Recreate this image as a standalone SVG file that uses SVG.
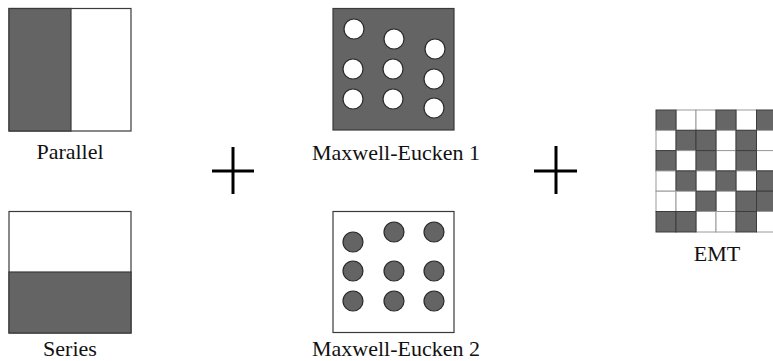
<svg xmlns="http://www.w3.org/2000/svg" width="773" height="361" viewBox="0 0 773 361">
  <style>
    .bg { fill: #ffffff; }
    .frame { fill: #ffffff; stroke: #3a3a3a; stroke-width: 1.2; }
    .dark { fill: #646464; stroke: #3a3a3a; stroke-width: 1.2; }
    .hole { fill: #ffffff; stroke: #2a2a2a; stroke-width: 1.2; }
    .dot { fill: #646464; stroke: #2a2a2a; stroke-width: 1.2; }
    .cellG { fill: #666666; stroke: #3c3c3c; stroke-width: 1; }
    .cellW { fill: #ffffff; stroke: #9a9a9a; stroke-width: 1; }
    .label { font-family: 'Liberation Serif', 'DejaVu Serif', 'Times New Roman', serif; font-size: 22px; fill: #111111; text-anchor: middle; }
    .plus { stroke: #000000; stroke-width: 3; fill: none; }
  </style>
  <rect class="bg" x="0" y="0" width="773" height="361"/>

  <!-- Parallel model -->
  <g id="parallel">
    <rect class="frame" x="9" y="8.5" width="122" height="122.5"/>
    <rect class="dark" x="9" y="8.5" width="62" height="122.5"/>
    <text class="label" x="70" y="159">Parallel</text>
  </g>

  <!-- Series model -->
  <g id="series">
    <rect class="frame" x="9" y="211.5" width="122" height="121.5"/>
    <rect class="dark" x="9" y="272" width="122" height="61"/>
    <text class="label" x="70" y="356">Series</text>
  </g>

  <!-- Maxwell-Eucken 1: white inclusions in a dark matrix -->
  <g id="maxwell-eucken-1">
    <rect class="dark" x="333" y="8.5" width="121" height="121.5"/>
    <circle class="hole" cx="354" cy="29" r="10"/>
    <circle class="hole" cx="353" cy="69" r="10"/>
    <circle class="hole" cx="353" cy="99" r="10"/>
    <circle class="hole" cx="394" cy="39" r="10"/>
    <circle class="hole" cx="393" cy="69" r="10"/>
    <circle class="hole" cx="393" cy="99" r="10"/>
    <circle class="hole" cx="435" cy="49" r="10"/>
    <circle class="hole" cx="434" cy="79" r="10"/>
    <circle class="hole" cx="434" cy="108" r="10"/>
    <text class="label" x="396" y="160">Maxwell-Eucken 1</text>
  </g>

  <!-- Maxwell-Eucken 2: dark inclusions in a white matrix -->
  <g id="maxwell-eucken-2">
    <rect class="frame" x="333" y="211.5" width="121" height="121"/>
    <circle class="dot" cx="353" cy="242" r="10"/>
    <circle class="dot" cx="353" cy="271" r="10"/>
    <circle class="dot" cx="353" cy="301" r="10"/>
    <circle class="dot" cx="394" cy="232" r="10"/>
    <circle class="dot" cx="394" cy="271" r="10"/>
    <circle class="dot" cx="394" cy="301" r="10"/>
    <circle class="dot" cx="434" cy="232" r="10"/>
    <circle class="dot" cx="434" cy="271" r="10"/>
    <circle class="dot" cx="434" cy="301" r="10"/>
    <text class="label" x="396" y="356">Maxwell-Eucken 2</text>
  </g>

  <!-- Plus signs between the model columns -->
  <g id="plus-1">
    <line class="plus" x1="233" y1="147" x2="233" y2="194"/>
    <line class="plus" x1="212" y1="171" x2="254" y2="171"/>
  </g>
  <g id="plus-2">
    <line class="plus" x1="556" y1="146" x2="556" y2="194"/>
    <line class="plus" x1="534" y1="171" x2="577" y2="171"/>
  </g>

  <!-- EMT: random checkerboard of the two phases -->
  <g id="emt">
    <!-- row 0: G W W G W G -->
    <rect class="cellW" x="676" y="110" width="20" height="20.3"/>
    <rect class="cellW" x="696" y="110" width="20" height="20.3"/>
    <rect class="cellW" x="736" y="110" width="20.5" height="20.3"/>
    <rect class="cellG" x="656" y="110" width="20" height="20.3"/>
    <rect class="cellG" x="716" y="110" width="20" height="20.3"/>
    <rect class="cellG" x="756.5" y="110" width="20.5" height="20.3"/>
    <!-- row 1: W G G W G W -->
    <rect class="cellW" x="656" y="130.3" width="20" height="20.3"/>
    <rect class="cellW" x="716" y="130.3" width="20" height="20.3"/>
    <rect class="cellW" x="756.5" y="130.3" width="20.5" height="20.3"/>
    <rect class="cellG" x="676" y="130.3" width="20" height="20.3"/>
    <rect class="cellG" x="696" y="130.3" width="20" height="20.3"/>
    <rect class="cellG" x="736" y="130.3" width="20.5" height="20.3"/>
    <!-- row 2: G W G W G W -->
    <rect class="cellW" x="676" y="150.6" width="20" height="20.3"/>
    <rect class="cellW" x="716" y="150.6" width="20" height="20.3"/>
    <rect class="cellW" x="756.5" y="150.6" width="20.5" height="20.3"/>
    <rect class="cellG" x="656" y="150.6" width="20" height="20.3"/>
    <rect class="cellG" x="696" y="150.6" width="20" height="20.3"/>
    <rect class="cellG" x="736" y="150.6" width="20.5" height="20.3"/>
    <!-- row 3: W G W G W G -->
    <rect class="cellW" x="656" y="170.9" width="20" height="20.3"/>
    <rect class="cellW" x="696" y="170.9" width="20" height="20.3"/>
    <rect class="cellW" x="736" y="170.9" width="20.5" height="20.3"/>
    <rect class="cellG" x="676" y="170.9" width="20" height="20.3"/>
    <rect class="cellG" x="716" y="170.9" width="20" height="20.3"/>
    <rect class="cellG" x="756.5" y="170.9" width="20.5" height="20.3"/>
    <!-- row 4: W W G W G G -->
    <rect class="cellW" x="656" y="191.2" width="20" height="20.3"/>
    <rect class="cellW" x="676" y="191.2" width="20" height="20.3"/>
    <rect class="cellW" x="716" y="191.2" width="20" height="20.3"/>
    <rect class="cellG" x="696" y="191.2" width="20" height="20.3"/>
    <rect class="cellG" x="736" y="191.2" width="20.5" height="20.3"/>
    <rect class="cellG" x="756.5" y="191.2" width="20.5" height="20.3"/>
    <!-- row 5: G G W W G W -->
    <rect class="cellW" x="696" y="211.5" width="20" height="20.5"/>
    <rect class="cellW" x="716" y="211.5" width="20" height="20.5"/>
    <rect class="cellW" x="756.5" y="211.5" width="20.5" height="20.5"/>
    <rect class="cellG" x="656" y="211.5" width="20" height="20.5"/>
    <rect class="cellG" x="676" y="211.5" width="20" height="20.5"/>
    <rect class="cellG" x="736" y="211.5" width="20.5" height="20.5"/>
    <text class="label" x="717" y="261">EMT</text>
  </g>
</svg>
